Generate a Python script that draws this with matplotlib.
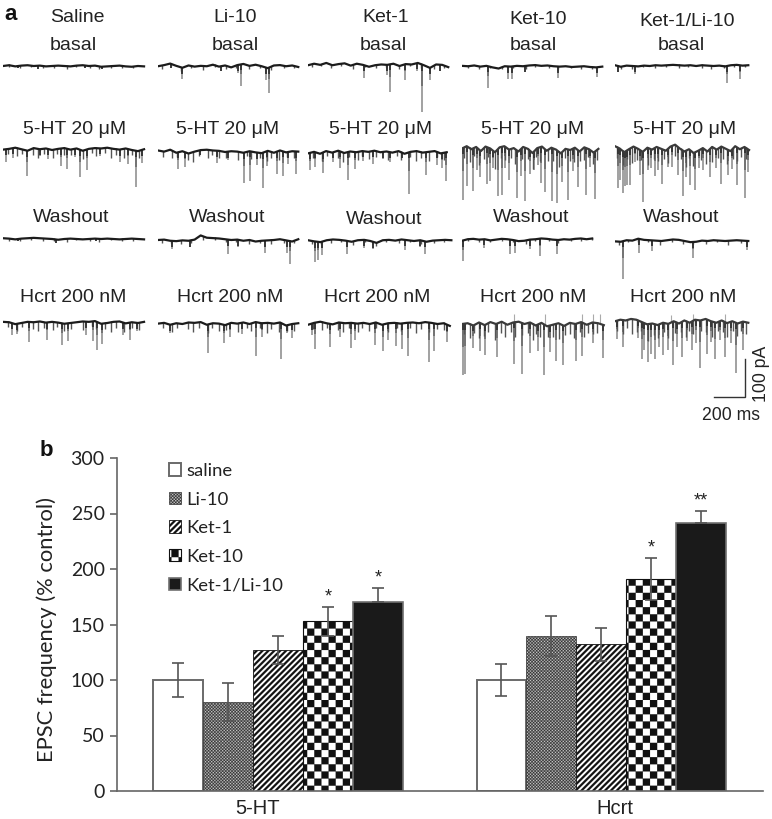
import numpy as np
import matplotlib
matplotlib.use("Agg")
import matplotlib.pyplot as plt
import matplotlib.hatch as mhatch
from matplotlib.path import Path

# ---------- panel b data ----------
groups = ["5-HT", "Hcrt"]
treatments = ["saline", "Li-10", "Ket-1", "Ket-10", "Ket-1/Li-10"]
values_5ht = [100, 80, 127, 153, 170]
values_hcrt = [100, 140, 132, 191, 241]
upper_5ht = [15, 17, 13, 13, 13]
upper_hcrt = [14, 18, 15, 19, 11]
lower_5ht = [15, 17, 13, 13, 0]
lower_hcrt = [14, 18, 15, 19, 0]
signif_5ht = ["", "", "", "*", "*"]
signif_hcrt = ["", "", "", "*", "**"]
yticks = [0, 50, 100, 150, 200, 250, 300]

# ---------- panel a data: spike time (ms), spike amplitude (pA), baseline (pA) ----------
col_names = ["Saline", "Li-10", "Ket-1", "Ket-10", "Ket-1/Li-10"]
row_labels = ["basal", "5-HT 20 \u03bcM", "Washout", "Hcrt 200 nM"]
durations = [[910, 905, 905, 905, 860],
             [910, 905, 895, 880, 865],
             [910, 905, 925, 840, 860],
             [910, 905, 915, 915, 860]]

t_r1c1 = [100, 226, 530, 640]
a_r1c1 = [5, 8, 6, 6]
base_r1c1 = [0, 2, -1, 1, 2, 0, 1, -1, 0, 1, 0, -1, 1, 2, 0, 1, -2, -1, 0, 1, -1, -2, 0, -1]
t_r1c2 = [84, 155, 406, 516, 535, 697, 716]
a_r1c2 = [10, 29, 13, 21, 58, 32, 68]
base_r1c2 = [2, 5, 9, 3, -2, 4, 1, 3, 2, 6, 1, 4, -1, 5, 8, 3, 6, 2, -3, 4, 5, 2, 4, 0]
t_r1c3 = [361, 510, 529, 626, 703, 735, 787, 851]
a_r1c3 = [34, 26, 74, 42, 21, 126, 32, 16]
base_r1c3 = [2, 6, 3, 8, 2, 5, 7, 1, 6, 3, -2, 2, 4, 3, 6, 0, 5, 4, 8, 2, -5, 4, 3, -3]
t_r1c4 = [168, 297, 322, 406, 619, 871]
a_r1c4 = [58, 34, 32, 16, 29, 26]
base_r1c4 = [3, 2, 4, 1, 3, -1, -4, 2, 1, 3, 2, 4, 5, 3, 4, 2, 1, 2, 0, 1, 2, 0, -1, 1]
t_r1c5 = [19, 129, 722, 806]
a_r1c5 = [16, 21, 45, 37]
base_r1c5 = [2, -2, 1, 0, -1, 1, 0, 2, 1, 2, 3, 2, 1, 2, 0, 2, 1, 0, 1, -1, 2, 3, 1, 2]

t_r2c1 = [19, 65, 155, 239, 290, 374, 413, 464, 497, 542, 626, 755, 806, 858, 897]
a_r2c1 = [34, 26, 66, 18, 26, 47, 53, 21, 71, 53, 21, 34, 39, 95, 34]
base_r2c1 = [1, 3, 6, 2, -2, 5, 2, 4, 0, 3, 5, 1, 4, -2, 3, 5, 4, 6, 3, 1, 4, 0, -3, 2]
t_r2c2 = [129, 174, 271, 381, 452, 555, 593, 639, 677, 703, 768, 806, 839, 890]
a_r2c2 = [45, 39, 13, 32, 21, 79, 79, 32, 92, 39, 58, 66, 32, 58]
base_r2c2 = [4, 1, 6, -2, 2, -4, 1, 5, 6, 4, 3, 0, 2, 1, -2, 2, -1, -3, 3, -2, 4, -1, 2, 1]
t_r2c3 = [13, 45, 97, 161, 206, 258, 303, 355, 419, 484, 529, 606, 651, 761, 832, 864, 890]
a_r2c3 = [45, 39, 53, 26, 45, 74, 45, 26, 34, 18, 26, 13, 110, 60, 34, 39, 74]
base_r2c3 = [-1, 3, -2, 5, 1, 6, 0, 4, 2, 5, 3, 6, 2, 4, 1, 5, -2, 3, 5, 1, 3, 5, -1, 2]
t_r2c4 = [6, 32, 71, 95, 116, 161, 180, 200, 232, 258, 280, 303, 355, 380, 406, 439, 465, 490, 510, 535, 581, 613, 645, 684, 716, 748, 800, 826, 858]
a_r2c4 = [137, 105, 113, 60, 71, 97, 85, 45, 124, 126, 55, 79, 124, 70, 139, 60, 50, 45, 95, 113, 139, 139, 79, 132, 60, 97, 124, 45, 124]
base_r2c4 = [4, 10, 2, 8, -3, 9, 4, -6, 7, 10, 1, 5, -4, 8, 3, -8, 5, 9, -2, 6, 1, -9, 3, 0, 6, -4, 7, 2, -7, 3]
t_r2c5 = [19, 35, 52, 65, 77, 97, 129, 161, 181, 213, 230, 258, 280, 303, 342, 370, 406, 439, 460, 484, 516, 545, 568, 613, 650, 684, 729, 755, 787, 839, 858]
a_r2c5 = [105, 80, 110, 90, 92, 97, 39, 66, 132, 58, 50, 74, 60, 92, 47, 55, 74, 118, 70, 92, 100, 48, 58, 74, 50, 97, 66, 50, 100, 132, 60]
base_r2c5 = [10, 4, -6, 2, 9, 3, -5, 6, 1, 8, 3, -2, 9, 14, 4, -4, 2, -8, -2, 5, -4, 8, 1, 9, 3, -3, 10, 2, 8, 0]

t_r3c1 = [340, 100, 600]
a_r3c1 = [10, 5, 6]
base_r3c1 = [2, 1, -1, 1, 2, 3, 2, 1, 0, -2, 0, 1, 0, -1, 0, 1, 0, 1, 0, -1, 0, 1, 0, -1]
t_r3c2 = [90, 206, 452, 516, 690, 832, 851]
a_r3c2 = [21, 18, 37, 18, 34, 34, 60]
base_r3c2 = [0, 1, -2, -3, -1, -2, 1, 12, 6, 5, 4, 2, 0, 1, -2, 0, -4, -2, -1, 0, 2, -1, -4, 2]
t_r3c3 = [45, 65, 90, 252, 361, 419, 626, 722, 755]
a_r3c3 = [53, 47, 34, 34, 21, 18, 26, 18, 32]
base_r3c3 = [2, -1, -3, 2, 4, 3, 1, -2, 2, 3, 0, -5, 2, 3, 1, 4, 2, 0, 2, -2, 1, 2, 3, 2]
t_r3c4 = [6, 142, 310, 342, 439, 503, 613]
a_r3c4 = [53, 24, 37, 32, 26, 45, 37]
base_r3c4 = [-2, 2, 3, 1, 2, -1, 1, 3, 2, 0, -3, -2, 1, 2, 4, 3, 1, 0, 2, 1, 3, 4, 2, 4]
t_r3c5 = [52, 155, 239, 503, 851]
a_r3c5 = [100, 37, 29, 42, 24]
base_r3c5 = [-1, -2, 2, 1, 6, 3, 2, 1, 0, 2, 4, 3, 0, -3, -2, 1, 0, 2, 1, 0, 1, 2, 1, 0]

t_r4c1 = [58, 90, 168, 284, 381, 419, 535, 581, 606, 639, 774, 819, 864]
a_r4c1 = [32, 26, 53, 45, 58, 47, 34, 53, 74, 53, 32, 45, 21]
base_r4c1 = [3, 2, -3, 0, 3, 2, 4, 1, 3, 1, -2, 0, 2, 4, 3, 5, -2, 0, 3, 4, -1, 2, 0, 3]
t_r4c2 = [77, 323, 426, 464, 542, 632, 671, 793, 832, 864]
a_r4c2 = [21, 76, 47, 37, 29, 89, 37, 95, 21, 37]
base_r4c2 = [1, 3, -2, 2, 0, 4, 3, 5, -2, 2, 1, -3, 3, 1, 4, 0, 5, 2, 3, 1, 4, -4, 0, 2]
t_r4c3 = [26, 45, 142, 206, 277, 303, 432, 484, 516, 568, 606, 645, 780, 813, 897]
a_r4c3 = [29, 68, 60, 37, 66, 45, 58, 71, 45, 60, 66, 87, 103, 74, 45]
base_r4c3 = [-2, 3, 6, 2, -1, 4, 2, 3, 1, 3, 0, 4, -2, 2, 3, 1, 3, 4, 2, 5, 3, 0, 2, -5]
t_r4c4 = [6, 19, 71, 116, 148, 226, 335, 387, 439, 490, 529, 568, 606, 651, 735, 774, 845, 910]
a_r4c4 = [134, 132, 60, 74, 79, 87, 110, 134, 79, 71, 134, 71, 97, 105, 97, 87, 53, 87]
base_r4c4 = [0, 2, -4, 4, -3, 5, 0, 6, -2, 4, 6, 0, 4, -4, 3, -6, -2, 2, -5, 3, 0, 5, -2, 4, 2, -3]
t_r4c5 = [13, 52, 148, 174, 190, 213, 235, 258, 285, 310, 340, 374, 400, 432, 465, 497, 525, 548, 593, 620, 645, 680, 710, 750, 780, 826]
a_r4c5 = [47, 71, 47, 97, 70, 100, 80, 92, 60, 84, 70, 113, 65, 92, 50, 74, 60, 124, 92, 55, 97, 50, 92, 55, 132, 74]
base_r4c5 = [2, 6, 4, 8, 6, 0, -6, -4, -8, -2, -5, 2, -4, 4, -2, 6, 4, 8, 2, -2, 4, -3, 2, -4, 1, -2]

# short noise ticks on each trace (time ms; the depth lists hold pA)
tick_t_flat_1 = [40, 110, 180, 260, 330, 410, 470, 560, 620, 700, 770, 840]
tick_a_flat_1 = [5, 7, 4, 6, 5, 8, 4, 6, 7, 4, 6, 5]
tick_t_flat_2 = [25, 85, 150, 215, 290, 365, 440, 505, 585, 655, 730, 810, 875]
tick_a_flat_2 = [8, 5, 9, 6, 10, 5, 8, 6, 9, 5, 10, 7, 6]
tick_t_busy_1 = [30, 90, 125, 195, 225, 265, 325, 350, 395, 440, 515, 575, 600, 660, 700, 730, 780, 835, 875]
tick_a_busy_1 = [14, 20, 12, 18, 25, 14, 22, 12, 18, 15, 22, 12, 20, 14, 26, 16, 24, 14, 18]
tick_t_busy_2 = [12, 50, 80, 110, 145, 170, 215, 250, 280, 315, 345, 390, 425, 455, 480, 505, 555, 590, 625, 665, 695, 725, 760, 790, 815, 845, 870]
tick_a_busy_2 = [28, 36, 22, 40, 30, 24, 44, 28, 34, 24, 38, 30, 26, 42, 22, 36, 28, 34, 40, 24, 30, 38, 26, 34, 22, 30, 26]

up_t_r4c4 = [335, 535, 774, 845, 890]
up_a_r4c4 = [26, 26, 26, 26, 26]
up_t_r4c5 = [361, 503, 710]
up_a_r4c5 = [18, 21, 21]

spike_times = [[t_r1c1, t_r1c2, t_r1c3, t_r1c4, t_r1c5], [t_r2c1, t_r2c2, t_r2c3, t_r2c4, t_r2c5],
               [t_r3c1, t_r3c2, t_r3c3, t_r3c4, t_r3c5], [t_r4c1, t_r4c2, t_r4c3, t_r4c4, t_r4c5]]
spike_amps = [[a_r1c1, a_r1c2, a_r1c3, a_r1c4, a_r1c5], [a_r2c1, a_r2c2, a_r2c3, a_r2c4, a_r2c5],
              [a_r3c1, a_r3c2, a_r3c3, a_r3c4, a_r3c5], [a_r4c1, a_r4c2, a_r4c3, a_r4c4, a_r4c5]]
baselines = [[base_r1c1, base_r1c2, base_r1c3, base_r1c4, base_r1c5],
             [base_r2c1, base_r2c2, base_r2c3, base_r2c4, base_r2c5],
             [base_r3c1, base_r3c2, base_r3c3, base_r3c4, base_r3c5],
             [base_r4c1, base_r4c2, base_r4c3, base_r4c4, base_r4c5]]
tick_times = [[tick_t_flat_1, tick_t_flat_2, tick_t_flat_2, tick_t_flat_1, tick_t_flat_1],
              [tick_t_busy_1, tick_t_busy_1, tick_t_busy_1, tick_t_busy_2, tick_t_busy_2],
              [tick_t_flat_1, tick_t_flat_2, tick_t_flat_2, tick_t_flat_1, tick_t_flat_2],
              [tick_t_busy_1, tick_t_busy_1, tick_t_busy_1, tick_t_busy_2, tick_t_busy_2]]
tick_amps = [[tick_a_flat_1, tick_a_flat_2, tick_a_flat_2, tick_a_flat_1, tick_a_flat_1],
             [tick_a_busy_1, tick_a_busy_1, tick_a_busy_1, tick_a_busy_2, tick_a_busy_2],
             [tick_a_flat_1, tick_a_flat_2, tick_a_flat_2, tick_a_flat_1, tick_a_flat_2],
             [tick_a_busy_1, tick_a_busy_1, tick_a_busy_1, tick_a_busy_2, tick_a_busy_2]]


# ---------- hatch patterns of the bars ----------
def _squares(n):
    v, c = [], []
    s = 1.0 / (2 * n)
    for ix in range(2 * n):
        for iy in range(2 * n):
            if (ix + iy) % 2 == 0:
                x, y = ix * s, iy * s
                v += [(x, y), (x + s, y), (x + s, y + s), (x, y + s), (x, y)]
                c += [Path.MOVETO, Path.LINETO, Path.LINETO, Path.LINETO, Path.CLOSEPOLY]
    return np.array(v), np.array(c, dtype=Path.code_type)


class _Tile(mhatch.HatchPatternBase):
    char = "x"

    def __init__(self, hatch, density):
        self.on = hatch.count(self.char) > 0
        self.v, self.c = self.build() if self.on else (np.empty((0, 2)), np.empty(0))
        self.num_vertices = len(self.v)

    def set_vertices_and_codes(self, vertices, codes):
        vertices[:] = self.v
        codes[:] = self.c


class CoarseChecker(_Tile):
    char = "x"

    def build(self):
        return _squares(7)


class FineChecker(_Tile):
    char = "o"

    def build(self):
        return _squares(32)


class Stripes(_Tile):
    char = "/"

    def build(self):
        n, f = 17, 0.5
        v, c = [], []
        for i in range(-n, n):
            a, b = i / n, (i + f) / n
            v += [(a, 0), (b, 0), (b + 1, 1), (a + 1, 1), (a, 0)]
            c += [Path.MOVETO, Path.LINETO, Path.LINETO, Path.LINETO, Path.CLOSEPOLY]
        return np.array(v), np.array(c, dtype=Path.code_type)


mhatch._hatch_types[:] = [CoarseChecker, FineChecker, Stripes]
plt.rcParams["hatch.linewidth"] = 0.1

# ---------- layout ----------
W, H = 772, 819
MS_PER_PX = 200 / 31
PA_PER_PX = 100 / 38
SANS = "Liberation Sans"
LATO = "Lato"
INK = "#222222"

col_x0 = [3, 158, 308, 462, 615]
row_y = [[66, 67, 66, 67, 66], [150, 152, 153, 150, 150], [239, 240, 241, 240, 241], [323, 324, 324, 324, 322]]

fig = plt.figure(figsize=(W / 100, H / 100), dpi=100, facecolor="white")


def strip_axes(x0, yb):
    ax = fig.add_axes([x0 / W, 1 - (yb + 70) / H, 160 / W, 100 / H])
    ax.set_xlim(0, 160 * MS_PER_PX)
    ax.set_ylim(-70 * PA_PER_PX, 30 * PA_PER_PX)
    ax.axis("off")
    return ax


for r in range(4):
    for c in range(5):
        ax = strip_axes(col_x0[c], row_y[r][c])
        base = np.array(baselines[r][c], dtype=float)
        dur = durations[r][c]
        tb = np.linspace(0, dur, len(base))
        ts = np.array(spike_times[r][c], dtype=float)
        am = np.array(spike_amps[r][c], dtype=float)
        top = np.interp(ts, tb, base)
        ax.vlines(ts, top, top - am, color="#8c8c8c", lw=1.15, zorder=1)
        ax.vlines(ts, top, top - 0.45 * am, color="#666666", lw=1.1, zorder=1.5)
        ax.vlines(ts, top, top - np.minimum(am, 16), color="#333333", lw=1.3, zorder=2)
        kt = np.array(tick_times[r][c], dtype=float)
        ka = np.array(tick_amps[r][c], dtype=float)
        keep = kt <= dur
        ktop = np.interp(kt[keep], tb, base)
        ax.vlines(kt[keep], ktop + 2, ktop - ka[keep], color="#555555", lw=1.0, zorder=1.6)
        if r == 3 and c == 3:
            ax.vlines(up_t_r4c4, 0, up_a_r4c4, color="#aaaaaa", lw=0.8, zorder=1)
        if r == 3 and c == 4:
            ax.vlines(up_t_r4c5, 0, up_a_r4c5, color="#aaaaaa", lw=0.8, zorder=1)
        dense = r in (1, 3) and c >= 3
        ax.plot(tb, base, color="#3a3a3a" if dense else "#1c1c1c", lw=1.6, zorder=3,
                solid_joinstyle="round")

# scale bar
sb = strip_axes(714, 397)
sb.plot([0, 200, 200], [0, 0, 100], color="#333333", lw=1.0, clip_on=False, solid_joinstyle="miter")


def ftext(x, y, s, **kw):
    kw.setdefault("family", SANS)
    kw.setdefault("fontsize", 14)
    kw.setdefault("color", INK)
    kw.setdefault("ha", "center")
    kw.setdefault("va", "center")
    fig.text(x / W, 1 - y / H, s, **kw)


title_x = [77, 235, 386, 538, 687]
title_y = [18, 18, 18, 19, 21]
basal_x = [73, 235, 383, 533, 681]
row2_x = [75, 228, 381, 533, 685]
row3_x = [71, 227, 384, 531, 681]
row3_y = [217, 217, 219, 217, 217]
row4_x = [73, 230, 377, 533, 683]
for c in range(5):
    ftext(title_x[c], title_y[c], col_names[c])
    ftext(basal_x[c], 45, row_labels[0])
    ftext(row2_x[c], 130, row_labels[1])
    ftext(row3_x[c], row3_y[c], row_labels[2])
    ftext(row4_x[c], 298, row_labels[3])

ftext(11, 14, "a", fontweight="bold", fontsize=16, color="#111111")
ftext(46, 450, "b", fontweight="bold", fontsize=16, color="#111111")
ftext(731, 416, "200 ms", fontsize=12.7)
ftext(762, 374, "100 pA", fontsize=12.7, rotation=90)

# ---------- panel b ----------
ax = fig.add_axes([116.5 / W, 1 - 791 / H, (763 - 116.5) / W, (791 - 458) / H])
ax.set_xlim(-0.5, 1.5)
ax.set_ylim(0, 300)
ax.patch.set_alpha(0)

bar_w = 0.1545
offsets = np.arange(5) - 2
faces = ["white", "#c4c4c4", "white", "white", "#1a1a1a"]
edges = ["#6a6a6a", "#333333", "#111111", "#111111", "#707070"]
widths = [1.4, 0.5, 0.6, 0.8, 1.2]
hatches = [None, "o", "/", "x", None]
centers = [0, 1]
all_vals = [values_5ht, values_hcrt]
all_up = [upper_5ht, upper_hcrt]
all_lo = [lower_5ht, lower_hcrt]
all_sig = [signif_5ht, signif_hcrt]

handles = []
for i, name in enumerate(treatments):
    xs = [centers[g] + offsets[i] * bar_w for g in range(2)]
    hs = [all_vals[g][i] for g in range(2)]
    cont = ax.bar(xs, hs, width=bar_w, facecolor=faces[i], edgecolor=edges[i], linewidth=widths[i],
                  hatch=hatches[i], label=name, zorder=2)
    handles.append(cont)
    ax.errorbar(xs, hs, yerr=[[all_lo[g][i] for g in range(2)], [all_up[g][i] for g in range(2)]],
                fmt="none", ecolor="#555555", elinewidth=1.2, capsize=4, capthick=1.2, zorder=3)
    for g in range(2):
        s = all_sig[g][i]
        if s:
            ax.text(xs[g], hs[g] + all_up[g][i] + 1.5, s, ha="center", va="bottom", family=SANS,
                    fontsize=13, color=INK, zorder=4)

for s in ("top", "right"):
    ax.spines[s].set_visible(False)
for s in ("left", "bottom"):
    ax.spines[s].set_color("#666666")
    ax.spines[s].set_linewidth(1.2)
ax.set_yticks(yticks)
ax.tick_params(axis="y", length=5, width=1.2, color="#666666", labelsize=14, labelcolor=INK, pad=3.5)
for t in ax.get_yticklabels():
    t.set_family(LATO)
ax.set_xticks([-0.065, 1.043])
ax.set_xticklabels(groups, family=SANS, fontsize=14.5, color=INK)
ax.tick_params(axis="x", length=0, pad=5.5)
ax.set_ylabel("EPSC frequency (% control)", family=LATO, fontsize=15.8, color=INK)
ax.yaxis.set_label_coords((57 - 116.5) / (763 - 116.5), 0.486)

leg = ax.legend(handles=handles, loc="upper left", bbox_to_anchor=(0.081, 0.985), frameon=False,
                prop={"family": LATO, "size": 13.3}, handlelength=0.66, handleheight=0.66,
                handletextpad=0.3, labelspacing=0.68, borderpad=0, borderaxespad=0)
for t in leg.get_texts():
    t.set_color(INK)

fig.savefig("out.png", dpi=100, facecolor="white")
